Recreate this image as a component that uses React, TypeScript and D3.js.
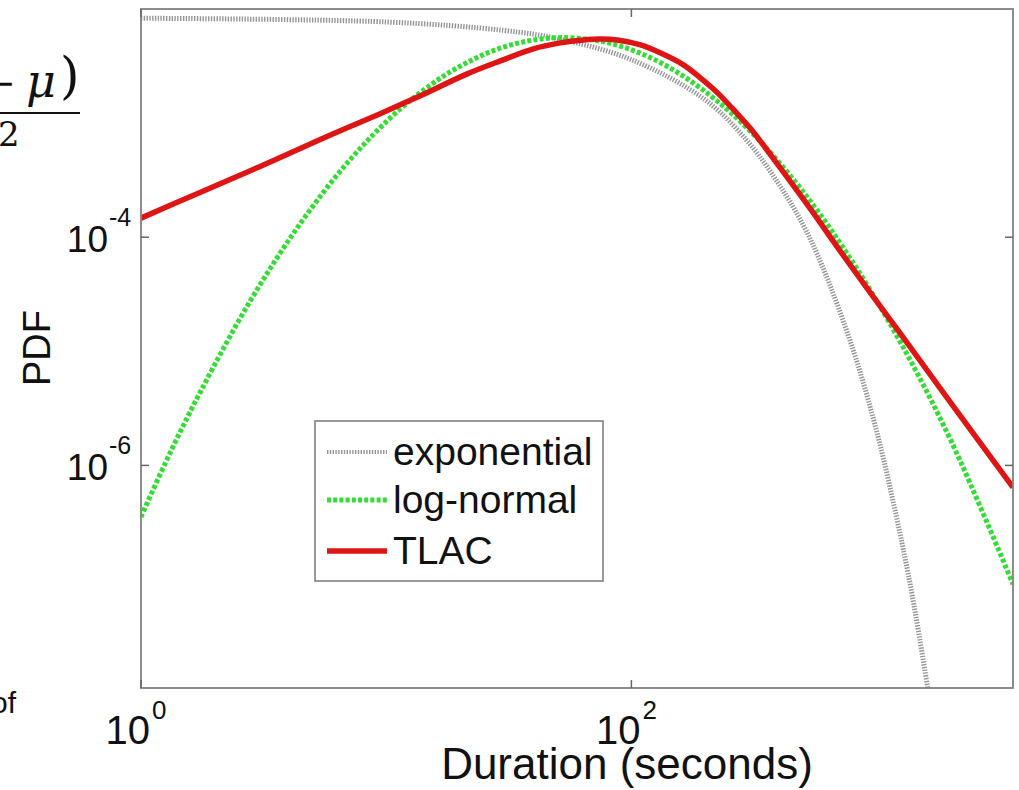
import React from 'react';
import * as d3 from 'd3';

// values (duration in seconds, PDF)
const expX = [1, 10, 30, 50, 100, 200, 300, 400, 500, 600, 800, 1000, 1200, 1400, 1700];
const expY = [8.3e-3, 7.7e-3, 6.5e-3, 5.5e-3, 3.6e-3, 1.6e-3, 6.8e-4, 2.9e-4, 1.3e-4, 5.6e-5, 1.05e-5, 2.0e-6, 3.7e-7, 7.1e-8, 5.7e-9];

const lognX = [1, 1.31, 1.76, 2.81, 4.5, 7.19, 11.5, 18.4, 29.4, 47.1, 75.5, 121, 193, 309, 494, 791, 1265, 2023, 3600];
const lognY = [3.54e-7, 1.27e-6, 4.56e-6, 2.84e-5, 1.35e-4, 4.89e-4, 1.35e-3, 2.84e-3, 4.56e-3, 5.57e-3, 5.2e-3, 3.7e-3, 2.0e-3, 8.28e-4, 2.61e-4, 6.25e-5, 1.15e-5, 1.6e-6, 9.1e-8];

const tlacX = [1, 1.74, 3.06, 5.38, 9.45, 13.8, 21.4, 29.2, 39.8, 51.3, 63.7, 74.7, 87.7, 109, 131, 163, 191, 224, 261, 306, 406, 538, 706, 945, 1253, 2004, 3600];
const tlacY = [1.47e-4, 2.47e-4, 4.17e-4, 7.18e-4, 1.21e-3, 1.74e-3, 2.7e-3, 3.51e-3, 4.48e-3, 5.05e-3, 5.36e-3, 5.47e-3, 5.36e-3, 4.85e-3, 4.13e-3, 3.24e-3, 2.49e-3, 1.85e-3, 1.31e-3, 8.95e-4, 4.01e-4, 1.76e-4, 7.7e-5, 3.24e-5, 1.42e-5, 3.55e-6, 6.43e-7];

const xTicks = [1, 100];
const xTickExp = ['0', '2'];
const yTicks = [1e-4, 1e-6];
const yTickExp = ['-4', '-6'];

const legendNames = ['exponential', 'log-normal', 'TLAC'];

const W = 1019, H = 790;
const left = 141, right = 1013, top = 9, bottom = 688;
const font = 'Liberation Sans, Arial, Helvetica, sans-serif';

const styles = [
  { stroke: '#959595', width: 5, dash: '1.4 1.4' },
  { stroke: '#33dd33', width: 5, dash: '4 2.2' },
  { stroke: '#dd1515', width: 5.5, dash: null },
];

export default function App() {
  const x = d3.scaleLog().domain([1, 3600]).range([left, right]);
  const y = d3.scaleLog().domain([1.12e-8, 1e-2]).range([bottom, top]);

  const line = d3.line<[number, number]>()
    .x(d => x(d[0]))
    .y(d => y(d[1]))
    .curve(d3.curveCatmullRom.alpha(0.5));

  const series = [
    d3.zip(expX, expY) as [number, number][],
    d3.zip(lognX, lognY) as [number, number][],
    d3.zip(tlacX, tlacY) as [number, number][],
  ];

  const legY = [452, 500, 551];

  return (
    <svg width={W} height={H} style={{ position: 'absolute', left: 0, top: 0, background: '#fff' }}>
      <defs>
        <clipPath id="plot">
          <rect x={left} y={top} width={right - left} height={bottom - top} />
        </clipPath>
      </defs>

      {/* bits of the page around the figure */}
      <g fontFamily="DejaVu Serif, Liberation Serif, serif" fill="#111">
        <text x={-16} y={96} fontSize={38}>−</text>
        <text x={26} y={97} fontSize={46} fontStyle="italic">μ</text>
        <text x={60} y={93} fontSize={50}>)</text>
        <line x1={0} x2={80} y1={113} y2={113} stroke="#111" strokeWidth={2} />
        <text x={-2} y={146} fontSize={34}>2</text>
      </g>
      <text x={-9} y={713} fontSize={30} fontFamily={font} fill="#111">of</text>

      <rect x={left} y={top} width={right - left} height={bottom - top} fill="#fff" />

      <g clipPath="url(#plot)" fill="none">
        {series.map((s, i) => (
          <path key={i} d={line(s) || ''} stroke={styles[i].stroke} strokeWidth={styles[i].width}
            strokeDasharray={styles[i].dash || undefined} />
        ))}
      </g>

      <rect x={left} y={top} width={right - left} height={bottom - top} fill="none" stroke="#808080" strokeWidth={1.8} />

      {xTicks.map(t => (
        <g key={t} stroke="#666" strokeWidth={1.5}>
          <line x1={x(t)} x2={x(t)} y1={bottom} y2={bottom - 8} />
          <line x1={x(t)} x2={x(t)} y1={top} y2={top + 8} />
        </g>
      ))}
      {yTicks.map(t => (
        <g key={t} stroke="#666" strokeWidth={1.5}>
          <line x1={left} x2={left + 8} y1={y(t)} y2={y(t)} />
          <line x1={right} x2={right - 8} y1={y(t)} y2={y(t)} />
        </g>
      ))}

      <g fontFamily={font} fill="#111">
        {xTicks.map((t, i) => (
          <g key={t}>
            <text x={x(t) + 9} y={744} fontSize={40} textAnchor="end">10</text>
            <text x={x(t) + 11} y={719} fontSize={26}>{xTickExp[i]}</text>
          </g>
        ))}
        {yTicks.map((t, i) => (
          <g key={t}>
            <text x={108} y={y(t) + 15} fontSize={37} textAnchor="end">10</text>
            <text x={109} y={y(t) - 11} fontSize={25}>{yTickExp[i]}</text>
          </g>
        ))}
        <text x={627} y={779} fontSize={44} textAnchor="middle">Duration (seconds)</text>
        <text transform="translate(50,348) rotate(-90)" fontSize={38} textAnchor="middle">PDF</text>
      </g>

      <rect x={315} y={421} width={288} height={160} fill="#fff" stroke="#777" strokeWidth={1.5} />
      {legendNames.map((n, i) => (
        <g key={n}>
          <line x1={327} x2={387} y1={legY[i]} y2={legY[i]} stroke={styles[i].stroke}
            strokeWidth={i === 0 ? 4 : styles[i].width} strokeDasharray={styles[i].dash || undefined} />
          <text x={393} y={legY[i] + 13} fontSize={39} fontFamily={font} fill="#111">{n}</text>
        </g>
      ))}
    </svg>
  );
}
